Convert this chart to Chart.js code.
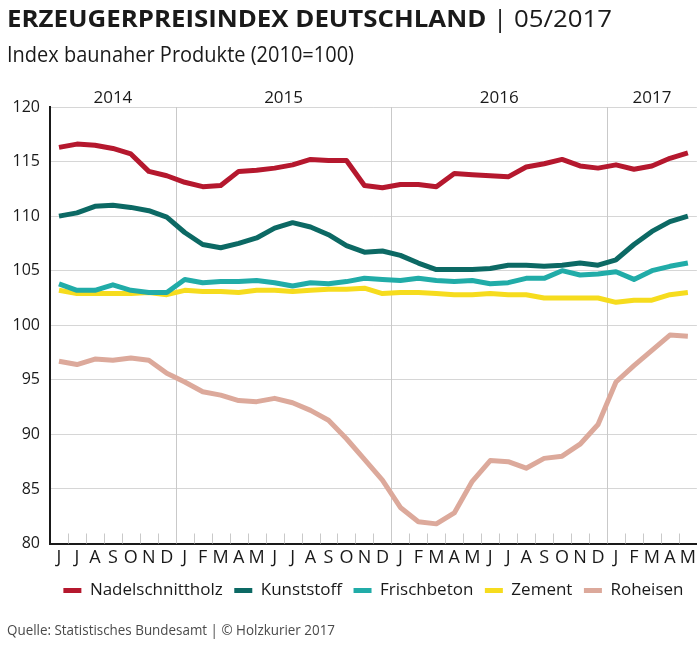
<!doctype html>
<html lang="de">
<head>
<meta charset="utf-8">
<script src="https://cdn.jsdelivr.net/npm/chart.js"></script>
<style>
  body { margin: 0; background: #fff; }
  #page { position: relative; width: 700px; height: 646px; overflow: hidden; font-family: 'Open Sans', sans-serif; color: #1a1a1a; }
  #chart { position: absolute; left: 0; top: 0; }
  .txt { position: absolute; left: 7px; white-space: nowrap; line-height: 1; transform-origin: 0 0; }
  #title { top: 6px; font-size: 24px; }
  #title b { font-weight: 700; }
  #sub { top: 44px; font-size: 21px; }
  #src { top: 623px; font-size: 14px; color: #4a4a4a; }
</style>
</head>
<body>
<div id="page">
  <canvas id="chart" width="700" height="646"></canvas>
  <div class="txt" id="title"><b>ERZEUGERPREISINDEX DEUTSCHLAND</b> | 05/2017</div>
  <div class="txt" id="sub">Index baunaher Produkte (2010=100)</div>
  <div class="txt" id="src">Quelle: Statistisches Bundesamt | © Holzkurier 2017</div>
</div>

<script>
  // Juni 2014 bis Mai 2017
  const months = ['J', 'J', 'A', 'S', 'O', 'N', 'D',
    'J', 'F', 'M', 'A', 'M', 'J', 'J', 'A', 'S', 'O', 'N', 'D',
    'J', 'F', 'M', 'A', 'M', 'J', 'J', 'A', 'S', 'O', 'N', 'D',
    'J', 'F', 'M', 'A', 'M'];
  const years = ['2014', '2015', '2016', '2017'];
  const yearStart = [0, 7, 19, 31];

  const nadelschnittholz = [116.3, 116.6, 116.5, 116.2, 115.7, 114.1, 113.7,
    113.1, 112.7, 112.8, 114.1, 114.2, 114.4, 114.7, 115.2, 115.1, 115.1, 112.8, 112.6,
    112.9, 112.9, 112.7, 113.9, 113.8, 113.7, 113.6, 114.5, 114.8, 115.2, 114.6, 114.4,
    114.7, 114.3, 114.6, 115.3, 115.8];
  const kunststoff = [110.0, 110.3, 110.9, 111.0, 110.8, 110.5, 109.9,
    108.5, 107.4, 107.1, 107.5, 108.0, 108.9, 109.4, 109.0, 108.3, 107.3, 106.7, 106.8,
    106.4, 105.7, 105.1, 105.1, 105.1, 105.2, 105.5, 105.5, 105.4, 105.5, 105.7, 105.5,
    106.0, 107.4, 108.6, 109.5, 110.0];
  const frischbeton = [103.8, 103.2, 103.2, 103.7, 103.2, 103.0, 103.0,
    104.2, 103.9, 104.0, 104.0, 104.1, 103.9, 103.6, 103.9, 103.8, 104.0, 104.3, 104.2,
    104.1, 104.3, 104.1, 104.0, 104.1, 103.8, 103.9, 104.3, 104.3, 105.0, 104.6, 104.7,
    104.9, 104.2, 105.0, 105.4, 105.7];
  const zement = [103.2, 102.9, 102.9, 102.9, 102.9, 103.0, 102.8,
    103.2, 103.1, 103.1, 103.0, 103.2, 103.2, 103.1, 103.2, 103.3, 103.3, 103.4, 102.9,
    103.0, 103.0, 102.9, 102.8, 102.8, 102.9, 102.8, 102.8, 102.5, 102.5, 102.5, 102.5,
    102.1, 102.3, 102.3, 102.8, 103.0];
  const roheisen = [96.7, 96.4, 96.9, 96.8, 97.0, 96.8, 95.6,
    94.8, 93.9, 93.6, 93.1, 93.0, 93.3, 92.9, 92.2, 91.3, 89.6, 87.7, 85.8,
    83.3, 82.0, 81.8, 82.8, 85.7, 87.6, 87.5, 86.9, 87.8, 88.0, 89.1, 90.9,
    94.8, 96.3, 97.7, 99.1, 99.0];

  const seriesNames = ['Nadelschnittholz', 'Kunststoff', 'Frischbeton', 'Zement', 'Roheisen'];
  const seriesData = [nadelschnittholz, kunststoff, frischbeton, zement, roheisen];
  const colors = ['#b5182e', '#0c6964', '#21aca8', '#f6dc1e', '#dca99b'];

  // fit header/footer texts to the widths of the original
  function fit(id, w) {
    var el = document.getElementById(id);
    var r = el.getBoundingClientRect().width;
    el.style.transform = 'scaleX(' + (w / r) + ')';
  }
  fit('title', 605);
  fit('sub', 347);
  fit('src', 328);

  // year separators, small month ticks, year labels on top
  const yearLines = {
    id: 'yearLines',
    beforeDatasetsDraw(chart) {
      const ctx = chart.ctx;
      const a = chart.chartArea;
      const x = chart.scales.x;
      const half = (x.getPixelForValue(1) - x.getPixelForValue(0)) / 2;
      ctx.save();
      ctx.strokeStyle = '#c9c9c9';
      ctx.lineWidth = 1;
      for (let i = 1; i < months.length; i++) {
        const px = Math.round(x.getPixelForValue(i) - half) + 0.5;
        const top = yearStart.includes(i) ? a.top : a.bottom - 10;
        ctx.beginPath();
        ctx.moveTo(px, top);
        ctx.lineTo(px, a.bottom);
        ctx.stroke();
      }
      ctx.fillStyle = '#1a1a1a';
      ctx.font = '17px "Open Sans"';
      ctx.textAlign = 'center';
      ctx.textBaseline = 'alphabetic';
      for (let k = 0; k < years.length; k++) {
        const s = yearStart[k];
        const e = k + 1 < yearStart.length ? yearStart[k + 1] - 1 : months.length - 1;
        const x0 = x.getPixelForValue(s) - half;
        const x1 = x.getPixelForValue(e) + half;
        ctx.fillText(years[k], (x0 + x1) / 2, a.top - 4);
      }
      ctx.restore();
    }
  };

  const datasets = [];
  for (let i = 0; i < seriesNames.length; i++) {
    datasets.push({
      label: seriesNames[i],
      data: seriesData[i],
      borderColor: colors[i],
      backgroundColor: colors[i],
      borderWidth: 5,
      pointRadius: 0,
      tension: 0,
      borderJoinStyle: 'round',
      fill: false
    });
  }

  new Chart(document.getElementById('chart'), {
    type: 'line',
    data: { labels: months, datasets: datasets },
    options: {
      responsive: false,
      animation: false,
      devicePixelRatio: 1,
      layout: { padding: { left: 0, right: 3, top: 107, bottom: 37 } },
      plugins: {
        tooltip: { enabled: false },
        legend: {
          position: 'bottom',
          fullSize: false,
          labels: {
            color: '#1a1a1a',
            font: { family: 'Open Sans', size: 17 },
            boxWidth: 18,
            boxHeight: 5,
            padding: 11.5,
            generateLabels(chart) {
              return Chart.defaults.plugins.legend.labels.generateLabels(chart).map(function (l) {
                l.lineWidth = 0;
                l.fillStyle = l.strokeStyle;
                return l;
              });
            }
          }
        }
      },
      scales: {
        x: {
          offset: true,
          grid: { display: false, drawTicks: false },
          border: { display: true, color: '#1a1a1a', width: 2 },
          ticks: {
            autoSkip: false,
            maxRotation: 0,
            padding: 4,
            color: '#1a1a1a',
            font: { family: 'Open Sans', size: 18 }
          },
          afterFit(s) { s.height = 27; }
        },
        y: {
          min: 80,
          max: 120,
          ticks: {
            stepSize: 5,
            padding: 10,
            color: '#1a1a1a',
            font: { family: 'Open Sans', size: 16 }
          },
          grid: { color: '#d6d6d6', drawTicks: false },
          border: { color: '#1a1a1a', width: 2 },
          afterFit(s) { s.width = 50; }
        }
      }
    },
    plugins: [yearLines]
  });
</script>
</body>
</html>
